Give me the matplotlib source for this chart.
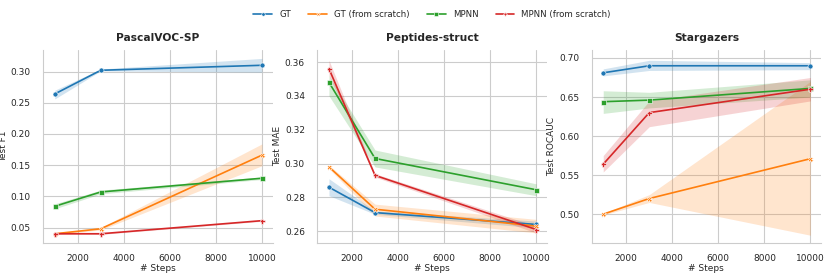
import matplotlib
matplotlib.use("Agg")
import matplotlib.pyplot as plt
import seaborn as sns
import numpy as np

sns.set_theme(style="whitegrid")
plt.rcParams['font.family'] = ['DejaVu Sans']

steps = [1000, 3000, 10000]
series_names = ["GT", "GT (from scratch)", "MPNN", "MPNN (from scratch)"]
colors = ["#1f77b4", "#ff7f0e", "#2ca02c", "#d62728"]
markers = ["o", "X", "s", "P"]

titles = ["PascalVOC-SP", "Peptides-struct", "Stargazers"]
ylabels = ["Test F1", "Test MAE", "Test ROCAUC"]

# PascalVOC-SP
pascal_mean = [[0.264, 0.302, 0.310], [0.040, 0.048, 0.166], [0.084, 0.107, 0.129], [0.040, 0.040, 0.061]]
pascal_low = [[0.256, 0.301, 0.299], [0.039, 0.046, 0.149], [0.080, 0.104, 0.127], [0.039, 0.039, 0.060]]
pascal_high = [[0.270, 0.304, 0.321], [0.041, 0.050, 0.184], [0.088, 0.110, 0.131], [0.041, 0.041, 0.062]]

# Peptides-struct
pept_mean = [[0.286, 0.271, 0.264], [0.298, 0.273, 0.263], [0.348, 0.303, 0.2845], [0.356, 0.293, 0.261]]
pept_low = [[0.281, 0.270, 0.262], [0.297, 0.269, 0.259], [0.340, 0.298, 0.281], [0.352, 0.292, 0.259]]
pept_high = [[0.291, 0.272, 0.266], [0.299, 0.276, 0.267], [0.352, 0.308, 0.288], [0.361, 0.294, 0.263]]

# Stargazers
star_mean = [[0.681, 0.690, 0.690], [0.500, 0.520, 0.571], [0.644, 0.646, 0.661], [0.564, 0.630, 0.660]]
star_low = [[0.677, 0.684, 0.685], [0.499, 0.515, 0.473], [0.629, 0.636, 0.650], [0.554, 0.612, 0.645]]
star_high = [[0.686, 0.697, 0.694], [0.501, 0.525, 0.670], [0.658, 0.656, 0.672], [0.575, 0.645, 0.675]]

data = [(pascal_mean, pascal_low, pascal_high),
        (pept_mean, pept_low, pept_high),
        (star_mean, star_low, star_high)]

fig, axes = plt.subplots(1, 3, figsize=(8.31, 2.76), dpi=100)
fig.subplots_adjust(left=0.052, right=0.988, bottom=0.12, top=0.82, wspace=0.196)

for ax, title, ylab, (m, lo, hi) in zip(axes, titles, ylabels, data):
    for i, name in enumerate(series_names):
        ax.fill_between(steps, lo[i], hi[i], color=colors[i], alpha=0.2, linewidth=0)
        ax.plot(steps, m[i], color=colors[i], marker=markers[i], markersize=3.6,
                markeredgecolor='white', markeredgewidth=0.4, linewidth=1.2, label=name)
    ax.set_title(title, fontsize=7.7, fontweight='bold', pad=6)
    ax.set_xlabel("# Steps", fontsize=6.5, labelpad=1)
    ax.set_ylabel(ylab, fontsize=6.5, labelpad=2)
    ax.tick_params(axis='x', labelsize=6.5, pad=2)
    ax.tick_params(axis='y', labelsize=6.5, pad=3)
    ax.set_xticks([2000, 4000, 6000, 8000, 10000])
    ax.grid(linewidth=0.8)
    sns.despine(ax=ax)
    for s in ax.spines.values():
        s.set_linewidth(0.8)

axes[0].set_yticks([0.05, 0.10, 0.15, 0.20, 0.25, 0.30])
axes[0].set_ylim(0.0254, 0.335)
axes[1].set_yticks([0.26, 0.28, 0.30, 0.32, 0.34, 0.36])
axes[1].set_ylim(0.2531, 0.3673)
axes[2].set_yticks([0.50, 0.55, 0.60, 0.65, 0.70])
axes[2].set_ylim(0.4632, 0.7106)
for ax in axes:
    ax.set_xlim(500, 10460)

handles, labels = axes[0].get_legend_handles_labels()
fig.legend(handles, labels, loc='center', ncol=4, frameon=False, fontsize=6.2,
           bbox_to_anchor=(0.52, 0.948), handlelength=2.2, columnspacing=2.0,
           markerscale=0.7)

fig.savefig("out.png", dpi=100)
